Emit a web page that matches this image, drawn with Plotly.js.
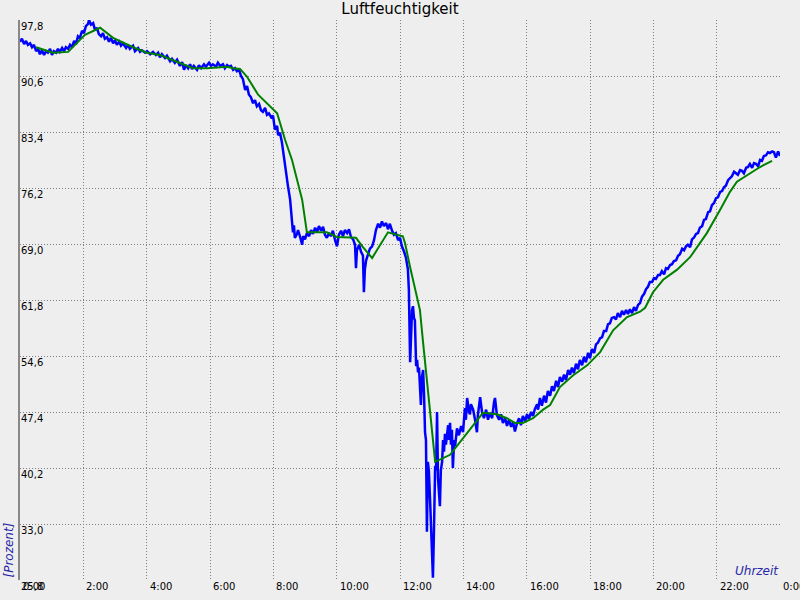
<!DOCTYPE html>
<html>
<head>
<meta charset="utf-8">
<script src="https://cdn.plot.ly/plotly-3.0.1.min.js"></script>
<style>html,body{margin:0;padding:0;background:#eeeeee;}#chart{width:800px;height:600px;}</style>
</head>
<body>
<div id="chart"></div>
<script>
// Tick values / labels
const yTickVals = [97.8, 90.6, 83.4, 76.2, 69.0, 61.8, 54.6, 47.4, 40.2, 33.0, 25.8];
const yTickText = ['97,8', '90,6', '83,4', '76,2', '69,0', '61,8', '54,6', '47,4', '40,2', '33,0', '25,8'];
const xTickVals = [0, 2, 4, 6, 8, 10, 12, 14, 16, 18, 20, 22, 24];
const xTickText = ['0:00', '2:00', '4:00', '6:00', '8:00', '10:00', '12:00', '14:00', '16:00', '18:00', '20:00', '22:00', '0:00'];

// Measured humidity (blue), time in hours
const blueHoursA = [
0.00,0.06,0.13,0.19,0.25,0.32,0.38,0.44,0.51,0.57,
0.63,0.69,0.76,0.82,0.88,0.95,1.01,1.07,1.14,1.20,
1.26,1.33,1.39,1.45,1.52,1.58,1.64,1.71,1.77,1.83,
1.89,1.96,2.02,2.08,2.15,2.18,2.24,2.31,2.37,2.43,
2.49,2.56,2.62,2.68,2.75,2.81,2.87,2.94,3.00,3.06,
3.13,3.19,3.25,3.35,3.41,3.47,3.57,3.63,3.73,3.79,
3.85,3.95,4.01,4.11,4.20,4.29,4.36,4.42,4.48,4.58,
4.64,4.74,4.80,4.89,4.96,5.05,5.12,5.18,5.24,5.31,
5.37,5.43,5.49,5.59,5.65,5.72,5.81,5.87,5.97,6.03,
6.09,6.19,6.25,6.32,6.41,6.47,6.54,6.60,6.66,6.73,
6.79,6.85,6.92];
const blueValuesA = [
95.0,95.4,94.7,95.1,94.6,94.8,94.3,94.6,93.8,94.1,
93.4,93.9,93.3,93.8,93.6,94.1,93.3,93.8,93.6,94.1,
93.7,94.2,93.8,94.3,94.1,94.6,94.3,95.1,94.7,95.7,
95.5,96.4,96.1,97.0,97.3,97.8,97.2,97.4,96.5,96.8,
96.0,95.7,96.1,95.4,95.6,95.0,95.5,94.8,95.2,94.6,
95.0,94.5,94.8,94.2,94.6,94.1,94.5,93.8,94.2,93.7,
93.9,93.6,93.8,93.4,93.7,93.3,93.6,93.0,93.4,92.9,
93.2,92.5,92.8,92.3,92.7,91.9,92.4,91.4,92.0,91.6,
92.1,91.5,91.9,91.4,92.0,91.6,92.1,91.8,92.3,91.9,
92.1,91.8,92.3,91.9,92.1,91.6,92.0,91.8,91.9,91.4,
91.6,91.2,91.4];

const blueHoursB = [
6.98,7.04,7.11,7.17,7.23,7.29,7.36,7.42,7.48,7.55,
7.61,7.67,7.74,7.80,7.86,7.93,7.99,8.05,8.12,8.15,
8.21,8.27,8.31,8.37,8.43,8.46,8.53,8.56,8.59,8.62,
8.65,8.68,8.75,8.78,8.84,8.91,8.94,9.00,9.06,9.13,
9.19,9.25,9.32,9.38,9.44,9.51,9.57,9.63,9.69,9.76,
9.82,9.88,9.95,10.01,10.07,10.14,10.20,10.26,10.33,10.39,
10.45,10.52,10.58,10.61,10.64,10.71,10.77,10.83,10.86,10.89,
10.93,10.99,11.05,11.12,11.18,11.24,11.31,11.37,11.43,11.49,
11.56,11.62,11.68,11.75,11.81,11.87,11.94,12.00,12.06,12.13,
12.19,12.25,12.28,12.32,12.35,12.38,12.41,12.44,12.47,12.51,
12.54,12.57,12.60,12.63,12.66,12.69,12.73,12.76,12.79,12.82,
12.85,12.88,12.91,12.95,12.98,13.01,13.04,13.07,13.11,13.14,
13.17,13.20,13.23,13.26,13.29,13.33,13.36,13.39,13.42,13.45,
13.48,13.52,13.55,13.58,13.61,13.64,13.67,13.71,13.74,13.80,
13.86,13.93,13.99,14.05,14.08,14.12,14.18,14.21,14.24,14.31,
14.37,14.43,14.46,14.53,14.59,14.65,14.72,14.78,14.84,14.91,
14.97,15.00,15.06,15.13,15.19,15.25,15.32,15.38,15.44,15.51,
15.57,15.63,15.69,15.76,15.82,15.88,15.95,16.01,16.07,16.14,
16.20,16.26,16.33,16.36,16.42];
const blueValuesB = [
90.6,90.2,88.8,89.3,88.2,87.9,87.1,87.5,86.7,87.0,
86.2,86.0,86.5,85.6,85.8,85.3,85.5,83.7,84.2,83.0,
83.3,82.1,80.8,78.8,77.5,76.5,74.7,73.4,72.1,70.5,
71.4,69.8,70.3,70.8,70.0,68.9,70.0,69.6,70.4,70.0,
70.8,70.3,71.1,70.5,71.3,70.7,71.2,70.2,69.8,70.4,
70.0,70.7,69.5,68.7,70.2,70.7,70.0,70.8,70.4,70.9,
69.9,69.6,68.9,65.9,68.2,68.9,68.0,67.5,62.8,65.7,
66.9,67.6,68.4,68.7,69.5,70.8,71.6,71.1,71.9,71.3,
71.7,70.9,71.6,70.7,70.2,70.4,69.5,69.8,68.7,68.0,
67.2,65.7,63.1,53.8,57.9,60.5,61.0,59.5,59.2,53.3,
54.1,52.5,53.1,51.3,48.3,51.8,52.8,49.6,44.8,43.8,
32.0,41.0,39.9,36.1,32.5,28.4,26.1,31.6,40.5,39.9,
47.4,38.9,37.1,35.3,39.9,41.0,43.8,42.3,44.6,43.2,
44.3,45.7,43.8,46.0,43.2,45.1,40.2,43.8,43.0,45.3,
44.4,45.6,44.8,47.9,46.4,49.2,47.4,47.1,48.4,47.7,
46.4,44.8,47.0,49.3,47.4,46.6,47.7,46.4,47.3,46.6,
48.7,49.2,47.0,46.4,47.1,46.0,46.6,45.6,46.4,45.5,
46.1,44.9,45.9,46.6,45.7,46.9,46.2,47.1,46.5,47.4,
46.9,47.8,48.4,47.7,49.2];

const blueHoursC = [
16.48,16.55,16.61,16.67,16.74,16.80,16.86,16.93,16.99,17.05,
17.12,17.18,17.24,17.31,17.37,17.43,17.49,17.56,17.62,17.68,
17.75,17.81,17.87,17.94,18.00,18.06,18.13,18.19,18.25,18.32,
18.38,18.44,18.51,18.57,18.63,18.69,18.76,18.82,18.88,18.95,
19.01,19.07,19.14,19.20,19.26,19.33,19.39,19.45,19.52,19.58,
19.64,19.71,19.77,19.83,19.89,19.96,20.02,20.08,20.15,20.21,
20.27,20.34,20.40,20.46,20.53,20.59,20.65,20.72,20.78,20.84,
20.91,20.97,21.03,21.09,21.16,21.22,21.28,21.35,21.41,21.47,
21.54,21.60,21.66,21.73,21.79,21.85,21.92,21.98,22.04,22.11,
22.17,22.23,22.29,22.36,22.42,22.48,22.55,22.61,22.67,22.74,
22.80,22.86,22.93,22.99,23.05,23.12,23.18,23.24,23.31,23.37,
23.43,23.49,23.56,23.62,23.68,23.75,23.81,23.87,23.94,24.00];
const blueValuesC = [
48.2,49.5,48.6,50.1,49.5,50.7,50.1,51.4,50.6,51.9,
51.3,52.2,51.5,52.8,52.2,53.1,52.4,53.6,52.9,54.1,
53.4,54.5,53.8,55.0,54.3,55.5,55.0,56.1,56.3,56.9,
57.0,57.8,57.8,58.7,58.8,59.5,59.6,59.3,60.1,59.6,
60.4,59.9,60.5,60.0,60.6,60.1,60.9,60.4,61.2,61.4,
62.2,62.6,63.2,63.5,64.1,64.1,64.6,64.5,65.0,65.0,
65.5,65.1,65.9,65.8,66.3,66.4,66.8,66.9,67.5,67.7,
68.4,68.2,68.7,68.9,68.6,69.6,69.8,70.3,70.4,71.1,
71.3,72.1,72.2,73.1,73.2,74.0,74.3,74.9,75.0,75.7,
75.8,76.3,76.5,77.2,77.5,77.7,78.3,78.1,77.9,78.5,
78.4,78.1,78.8,78.9,79.3,78.8,79.4,79.3,79.0,79.8,
79.7,80.3,80.4,80.8,80.7,80.9,80.8,80.1,80.9,80.3];

// Smoothed humidity (green)
const greenHours = [
0.51,1.04,1.52,2.05,2.53,2.94,3.57,4.01,4.42,4.96,
5.46,5.91,6.54,6.73,6.95,7.04,7.17,7.52,7.80,8.12,
8.21,8.37,8.59,8.75,8.91,9.06,9.69,10.01,10.61,10.83,
11.12,11.27,11.62,12.09,12.16,12.32,12.47,12.63,12.73,12.85,
12.95,13.04,13.11,13.58,13.83,14.21,14.62,15.06,15.38,15.63,
15.88,16.20,16.52,16.74,17.05,17.46,17.91,18.32,18.73,19.17,
19.58,19.74,19.99,20.31,20.75,21.16,21.69,22.11,22.42,22.64,
23.05,23.37,23.75];
const greenValues = [
94.3,93.6,93.7,95.9,96.8,95.5,94.3,93.6,93.3,92.4,
91.6,91.6,91.8,91.6,91.5,91.1,90.5,88.2,87.1,85.8,
84.6,82.4,79.8,77.2,74.7,70.5,70.5,69.9,69.8,68.6,
67.2,68.2,70.5,70.0,69.1,66.0,63.5,60.5,56.3,51.5,
47.7,44.2,41.0,41.9,43.2,45.1,47.3,47.1,46.6,46.0,
46.0,46.6,47.7,48.3,50.6,52.1,53.4,55.1,57.9,59.6,
60.3,60.8,62.8,64.4,65.7,67.3,70.4,73.4,75.7,77.0,
78.1,78.9,79.7];

const blueHours = blueHoursA.concat(blueHoursB, blueHoursC);
const blueValues = blueValuesA.concat(blueValuesB, blueValuesC);

const FONT = 'DejaVu Sans';
const AXCOL = '#2828a8';

const annotations = [];
yTickVals.forEach((v, i) => annotations.push({
  xref: 'paper', x: 0, xanchor: 'left', xshift: -1,
  yref: 'y', y: v, yanchor: 'top', yshift: 1,
  text: yTickText[i], showarrow: false,
  font: {family: FONT, size: 10, color: '#000'}
}));
xTickVals.forEach((v, i) => annotations.push({
  xref: 'x', x: v, xanchor: 'left', xshift: 1,
  yref: 'paper', y: 0, yanchor: 'top', yshift: 1,
  text: xTickText[i], showarrow: false,
  font: {family: FONT, size: 10, color: '#000'}
}));
annotations.push({
  xref: 'paper', x: -12/760, xanchor: 'center',
  yref: 'paper', y: 0, yanchor: 'bottom', yshift: 0,
  text: '[Prozent]', textangle: -90, showarrow: false,
  font: {family: FONT, size: 12, color: AXCOL, style: 'italic'}
});
annotations.push({
  xref: 'paper', x: 1, xanchor: 'right', xshift: 1,
  yref: 'paper', y: 0, yanchor: 'bottom', yshift: 0,
  text: 'Uhrzeit', showarrow: false,
  font: {family: FONT, size: 12, color: AXCOL, style: 'italic'}
});

const traces = [
  {x: blueHours, y: blueValues, type: 'scatter', mode: 'lines',
   line: {color: '#0000ff', width: 2.5}, hoverinfo: 'skip'},
  {x: greenHours, y: greenValues, type: 'scatter', mode: 'lines',
   line: {color: '#008000', width: 2}, hoverinfo: 'skip'}
];

const layout = {
  width: 800, height: 600,
  margin: {l: 20, r: 20, t: 20, b: 20, pad: 0},
  paper_bgcolor: '#eeeeee', plot_bgcolor: '#eeeeee',
  showlegend: false,
  title: {text: 'Luftfeuchtigkeit', x: 0.5, xanchor: 'center', xref: 'paper',
          yref: 'container', y: 1 - 9/600, yanchor: 'middle',
          font: {family: FONT, size: 15, color: '#000'}},
  xaxis: {range: [0, 24], tickmode: 'array', tickvals: xTickVals, showticklabels: false,
          ticks: '', showgrid: true, gridcolor: '#808080', griddash: '1px,2px', gridwidth: 1,
          zeroline: false, showline: false, fixedrange: true},
  yaxis: {range: [25.8, 97.8], tickmode: 'array', tickvals: yTickVals, showticklabels: false,
          ticks: '', showgrid: true, gridcolor: '#808080', griddash: '1px,2px', gridwidth: 1,
          zeroline: false, showline: true, linecolor: '#888888', linewidth: 2, fixedrange: true},
  annotations: annotations
};

Plotly.newPlot('chart', traces, layout, {displayModeBar: false, staticPlot: true});
</script>
</body>
</html>
